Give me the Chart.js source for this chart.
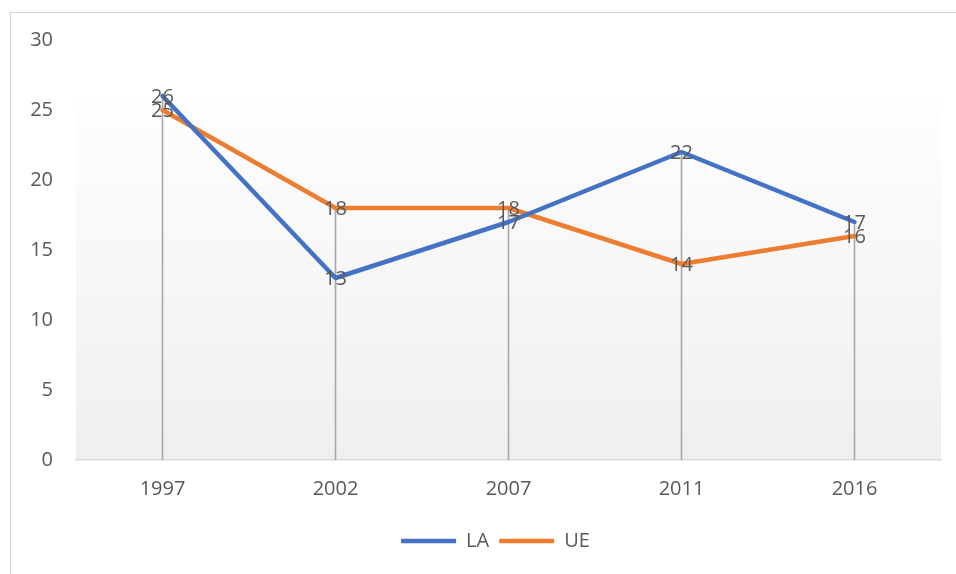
<!DOCTYPE html>
<html>
<head>
<meta charset="utf-8">
<script src="https://cdn.jsdelivr.net/npm/chart.js@4/dist/chart.umd.min.js"></script>
<style>
  html, body { margin: 0; padding: 0; background: #fff; }
  #wrap { position: relative; width: 956px; height: 574px; overflow: hidden; }
  #frame { position: absolute; left: 10px; top: 12px; width: 1000px; height: 700px;
           border-left: 1px solid #d4d4d4; border-top: 1px solid #d4d4d4; }
  canvas { position: absolute; left: 0; top: 0; }
</style>
</head>
<body>
<div id="wrap">
  <div id="frame"></div>
  <canvas id="chart" width="956" height="574"></canvas>
</div>
<script>
// values
const years = ['1997', '2002', '2007', '2011', '2016'];
const laValues = [26, 13, 17, 22, 17];
const ueValues = [25, 18, 18, 14, 16];
const yTicks = [0, 5, 10, 15, 20, 25, 30];

const textColor = '#595959';
const fontFamily = "'Open Sans', 'Noto Sans', sans-serif";
const fontSize = 20;

// soft grey gradient behind the plot (starts a bit below the top)
const plotBackground = {
  id: 'plotBackground',
  beforeDraw(chart) {
    const { ctx, chartArea: a } = chart;
    const top = a.top + (a.bottom - a.top) * 0.136;
    const g = ctx.createLinearGradient(0, top, 0, a.bottom);
    g.addColorStop(0, '#fefefe');
    g.addColorStop(1, '#efefef');
    ctx.save();
    ctx.fillStyle = g;
    ctx.fillRect(a.left, top, a.right - a.left, a.bottom - top);
    ctx.restore();
  }
};

// vertical drop lines from the highest point of each category to the axis
const dropLines = {
  id: 'dropLines',
  beforeDatasetsDraw(chart) {
    const ctx = chart.ctx;
    const base = chart.scales.y.getPixelForValue(0);
    ctx.save();
    ctx.strokeStyle = '#a8a8a8';
    ctx.lineWidth = 1.6;
    years.forEach((_, i) => {
      let top = base, x = null;
      chart.data.datasets.forEach((ds, d) => {
        const pt = chart.getDatasetMeta(d).data[i];
        x = pt.x;
        top = Math.min(top, pt.y);
      });
      ctx.beginPath();
      ctx.moveTo(x, top);
      ctx.lineTo(x, base);
      ctx.stroke();
    });
    ctx.restore();
  }
};

// value labels centred on each point
const pointLabels = {
  id: 'pointLabels',
  afterDatasetsDraw(chart) {
    const ctx = chart.ctx;
    ctx.save();
    ctx.font = fontSize + 'px ' + fontFamily;
    ctx.fillStyle = textColor;
    ctx.textAlign = 'center';
    ctx.textBaseline = 'middle';
    chart.data.datasets.forEach((ds, d) => {
      chart.getDatasetMeta(d).data.forEach((pt, i) => {
        ctx.fillText(String(ds.data[i]), pt.x, pt.y + 1);
      });
    });
    ctx.restore();
  }
};

// the legend in the reference sits a little right of the canvas centre
const legendShift = {
  id: 'legendShift',
  afterLayout(chart) {
    chart.legend.left += 25;
    chart.legend.right += 25;
  }
};

const ctx = document.getElementById('chart').getContext('2d');
new Chart(ctx, {
  type: 'line',
  data: {
    labels: years,
    datasets: [
      {
        label: 'LA',
        data: laValues,
        borderColor: '#4472C4',
        backgroundColor: '#4472C4',
        borderWidth: 4.5,
        borderCapStyle: 'round',
        borderJoinStyle: 'round',
        pointRadius: 0,
        tension: 0
      },
      {
        label: 'UE',
        data: ueValues,
        borderColor: '#ED7D31',
        backgroundColor: '#ED7D31',
        borderWidth: 4.5,
        borderCapStyle: 'round',
        borderJoinStyle: 'round',
        pointRadius: 0,
        tension: 0
      }
    ]
  },
  options: {
    responsive: false,
    animation: false,
    layout: { padding: { top: 40, right: 15, left: 0, bottom: 13 } },
    font: { family: fontFamily },
    scales: {
      x: {
        offset: true,
        grid: { display: false, drawTicks: false },
        border: { display: true, color: '#d9d9d9', width: 1.5 },
        ticks: { color: textColor, font: { size: fontSize, family: fontFamily }, padding: 17 },
        afterFit(scale) { scale.height = 61; }
      },
      y: {
        min: yTicks[0],
        max: yTicks[yTicks.length - 1],
        grid: { display: false, drawTicks: false },
        border: { display: false },
        ticks: { stepSize: yTicks[1] - yTicks[0], color: textColor, font: { size: fontSize, family: fontFamily }, padding: 23 },
        afterFit(scale) { scale.width = 76; }
      }
    },
    plugins: {
      tooltip: { enabled: false },
      legend: {
        position: 'bottom',
        labels: {
          usePointStyle: true,
          pointStyle: 'line',
          pointStyleWidth: 55,
          boxHeight: 4,
          padding: 10,
          color: textColor,
          font: { size: fontSize, family: fontFamily }
        }
      }
    }
  },
  plugins: [plotBackground, dropLines, pointLabels, legendShift]
});
</script>
</body>
</html>
